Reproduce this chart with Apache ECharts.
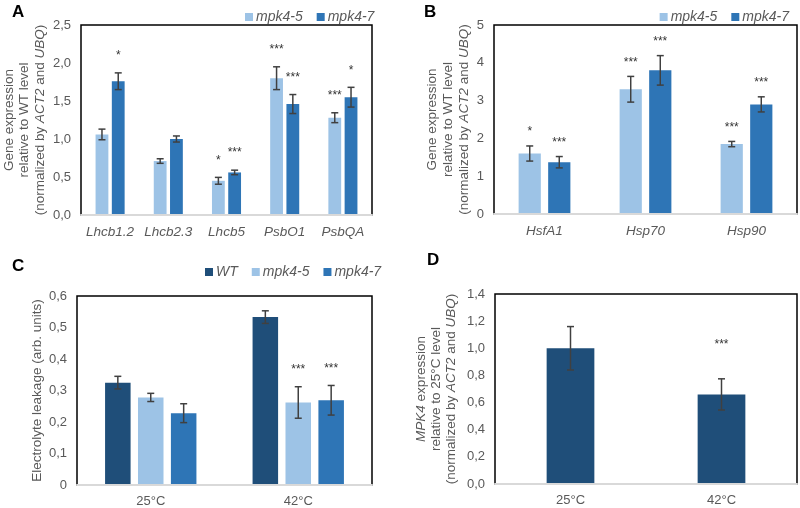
<!DOCTYPE html>
<html>
<head>
<meta charset="utf-8">
<style>
  body { margin: 0; background: #fff; }
  #main { width: 800px; height: 508px; }
</style>
</head>
<body>
<script src="https://cdn.jsdelivr.net/npm/echarts@6.0.0/dist/echarts.min.js"></script>
<div id="main"></div>

<script>
// panel A - photosynthesis genes
var catsA = ['Lhcb1.2', 'Lhcb2.3', 'Lhcb5', 'PsbO1', 'PsbQA'];
var aMpk45 = [1.06, 0.71, 0.45, 1.80, 1.28];
var aMpk45Err = [0.07, 0.03, 0.045, 0.15, 0.065];
var aMpk45Sig = ['', '', '*', '***', '***'];
var aMpk47 = [1.76, 1.00, 0.56, 1.46, 1.55];
var aMpk47Err = [0.11, 0.04, 0.03, 0.125, 0.13];
var aMpk47Sig = ['*', '', '***', '***', '*'];
var ticksA = ['0,0', '0,5', '1,0', '1,5', '2,0', '2,5'];

// panel B - heat shock genes
var catsB = ['HsfA1', 'Hsp70', 'Hsp90'];
var bMpk45 = [1.60, 3.30, 1.85];
var bMpk45Err = [0.20, 0.34, 0.07];
var bMpk45Sig = ['*', '***', '***'];
var bMpk47 = [1.37, 3.80, 2.90];
var bMpk47Err = [0.15, 0.39, 0.20];
var bMpk47Sig = ['***', '***', '***'];
var ticksB = ['0', '1', '2', '3', '4', '5'];

// panel C - electrolyte leakage
var catsC = ['25°C', '42°C'];
var cWT = [0.325, 0.533];
var cWTErr = [0.02, 0.02];
var cWTSig = ['', ''];
var cMpk45 = [0.278, 0.262];
var cMpk45Err = [0.013, 0.05];
var cMpk45Sig = ['', '***'];
var cMpk47 = [0.228, 0.269];
var cMpk47Err = [0.03, 0.047];
var cMpk47Sig = ['', '***'];
var ticksC = ['0', '0,1', '0,2', '0,3', '0,4', '0,5', '0,6'];

// panel D - MPK4 expression
var catsD = ['25°C', '42°C'];
var dMpk4 = [1.00, 0.66];
var dMpk4Err = [0.16, 0.115];
var dMpk4Sig = ['', '***'];
var ticksD = ['0,0', '0,2', '0,4', '0,6', '0,8', '1,0', '1,2', '1,4'];

var LIGHT = '#9DC3E6', MID = '#2E75B6', DARK = '#1F4E79';
var GREY = '#595959';
var FONT = '"Liberation Sans", Arial, sans-serif';

var myChart = echarts.init(document.getElementById('main'));

function tickFmt(ticks, step) {
  return function (v) { return ticks[Math.round(v / step)]; };
}

// error bar + star drawn next to the bar it belongs to
function errSeries(gi, vals, errs, sigs, n, idx, wPct, gPct, starGap) {
  var data = [];
  for (var i = 0; i < vals.length; i++) data.push([i, vals[i], errs[i]]);
  return {
    type: 'custom', xAxisIndex: gi, yAxisIndex: gi, z: 10,
    data: data,
    renderItem: function (params, api) {
      var c = api.value(0), v = api.value(1), e = api.value(2);
      var band = api.size([1, 0])[0];
      var w = band * wPct, g = w * gPct;
      var total = n * w + (n - 1) * g;
      var off = -total / 2 + idx * (w + g) + w / 2;
      var top = api.coord([c, v + e]);
      var bot = api.coord([c, v - e]);
      var x = top[0] + off;
      var st = { stroke: '#404040', lineWidth: 1.5 };
      var kids = [
        { type: 'line', shape: { x1: x, y1: top[1], x2: x, y2: bot[1] }, style: st },
        { type: 'line', shape: { x1: x - 3.5, y1: top[1], x2: x + 3.5, y2: top[1] }, style: st },
        { type: 'line', shape: { x1: x - 3.5, y1: bot[1], x2: x + 3.5, y2: bot[1] }, style: st }
      ];
      var s = sigs[params.dataIndex];
      if (s) {
        kids.push({
          type: 'text', x: x, y: top[1] - starGap,
          style: { text: s, fill: '#333', font: '12px ' + FONT, align: 'center', verticalAlign: 'middle' }
        });
      }
      return { type: 'group', children: kids };
    }
  };
}

function bar(gi, name, vals, color, wPct, gPct) {
  return {
    type: 'bar', name: name, xAxisIndex: gi, yAxisIndex: gi,
    data: vals, barWidth: (wPct * 100) + '%', barGap: (gPct * 100) + '%',
    itemStyle: { color: color }
  };
}

function xAx(gi, cats, italic) {
  return {
    type: 'category', gridIndex: gi, data: cats, z: 5,
    axisLine: { lineStyle: { color: '#D9D9D9', width: 2 } },
    axisTick: { show: false },
    axisLabel: {
      interval: 0, color: GREY, fontSize: italic ? 13.5 : 13, fontFamily: FONT,
      fontStyle: italic ? 'italic' : 'normal', margin: 10
    }
  };
}

function yAx(gi, max, step, ticks, name, gap, lh) {
  return {
    type: 'value', gridIndex: gi, min: 0, max: max, interval: step,
    axisLine: { show: false }, axisTick: { show: false }, splitLine: { show: false },
    axisLabel: { color: GREY, fontSize: 13, fontFamily: FONT, margin: 10, formatter: tickFmt(ticks, step) },
    name: name, nameLocation: 'middle', nameRotate: 90, nameGap: gap,
    nameTextStyle: {
      color: GREY, fontSize: 13.5, fontFamily: FONT, lineHeight: lh, align: 'center',
      rich: { i: { fontStyle: 'italic', color: GREY, fontSize: 13.5, fontFamily: FONT, lineHeight: lh } }
    }
  };
}

function legend(pos, items) {
  return Object.assign({
    data: items, orient: 'horizontal', icon: 'rect', itemWidth: 8, itemHeight: 8, itemGap: 14,
    selectedMode: false,
    textStyle: { color: GREY, fontSize: 14, fontFamily: FONT, fontStyle: 'italic', padding: [0, 0, 0, -2] }
  }, pos);
}

var frame = { show: true, borderColor: '#000', borderWidth: 1.5, containLabel: false };

function letter(txt, x, y) {
  return { type: 'text', left: x, top: y, style: { text: txt, font: 'bold 17px ' + FONT, fill: '#000' } };
}

var option = {
  animation: false,
  textStyle: { fontFamily: FONT },
  grid: [
    Object.assign({ left: 81, top: 25, width: 291, height: 190 }, frame),
    Object.assign({ left: 494, top: 25, width: 303, height: 189 }, frame),
    Object.assign({ left: 77, top: 296, width: 295, height: 189 }, frame),
    Object.assign({ left: 495, top: 294, width: 302, height: 190 }, frame)
  ],
  legend: [
    legend({ left: 240, top: 5 }, ['mpk4-5', 'mpk4-7']),
    legend({ right: 6, top: 5 }, ['mpk4-5', 'mpk4-7']),
    legend({ left: 200, top: 260 }, ['WT', 'mpk4-5', 'mpk4-7'])
  ],
  xAxis: [xAx(0, catsA, true), xAx(1, catsB, true), xAx(2, catsC, false), xAx(3, catsD, false)],
  yAxis: [
    yAx(0, 2.5, 0.5, ticksA, 'Gene expression\nrelative to WT level\n(normalized by {i|ACT2} and {i|UBQ})', 33, 15.5),
    yAx(1, 5, 1, ticksB, 'Gene expression\nrelative to WT level\n(normalized by {i|ACT2} and {i|UBQ})', 22, 16),
    yAx(2, 0.6, 0.1, ticksC, 'Electrolyte leakage (arb. units)', 32, 15),
    yAx(3, 1.4, 0.2, ticksD, '{i|MPK4} expression\nrelative to 25°C level\n(normalized by {i|ACT2} and {i|UBQ})', 36, 15)
  ],
  graphic: [letter('A', 12, 4), letter('B', 424, 4), letter('C', 12, 258), letter('D', 427, 252)],
  series: [
    bar(0, 'mpk4-5', aMpk45, LIGHT, 0.22, 0.27),
    bar(0, 'mpk4-7', aMpk47, MID, 0.22, 0.27),
    errSeries(0, aMpk45, aMpk45Err, aMpk45Sig, 2, 0, 0.22, 0.27, 17),
    errSeries(0, aMpk47, aMpk47Err, aMpk47Sig, 2, 1, 0.22, 0.27, 17),

    bar(1, 'mpk4-5', bMpk45, LIGHT, 0.22, 0.33),
    bar(1, 'mpk4-7', bMpk47, MID, 0.22, 0.33),
    errSeries(1, bMpk45, bMpk45Err, bMpk45Sig, 2, 0, 0.22, 0.33, 14),
    errSeries(1, bMpk47, bMpk47Err, bMpk47Sig, 2, 1, 0.22, 0.33, 14),

    bar(2, 'WT', cWT, DARK, 0.173, 0.29),
    bar(2, 'mpk4-5', cMpk45, LIGHT, 0.173, 0.29),
    bar(2, 'mpk4-7', cMpk47, MID, 0.173, 0.29),
    errSeries(2, cWT, cWTErr, cWTSig, 3, 0, 0.173, 0.29, 17),
    errSeries(2, cMpk45, cMpk45Err, cMpk45Sig, 3, 1, 0.173, 0.29, 17),
    errSeries(2, cMpk47, cMpk47Err, cMpk47Sig, 3, 2, 0.173, 0.29, 17),

    bar(3, 'MPK4', dMpk4, DARK, 0.316, 0.3),
    errSeries(3, dMpk4, dMpk4Err, dMpk4Sig, 1, 0, 0.316, 0.3, 34)
  ]
};

myChart.setOption(option);
</script>
</body>
</html>
